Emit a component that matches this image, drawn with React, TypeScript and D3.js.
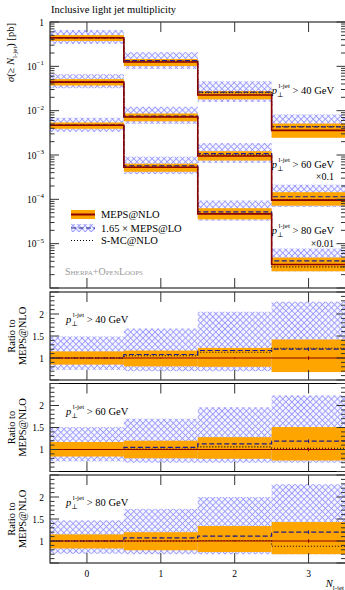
import React from 'react';
import * as d3 from 'd3';

// bins of N_l-jet and their edges
const bins = [0, 1, 2, 3];
const binEdges = [-0.5, 0.5, 1.5, 2.5, 3.5];
const ptCuts = ['40', '60', '80'];
const scaleNotes = ['', '×0.1', '×0.01'];

// MEPS@NLO central values [pb], already multiplied by the quoted factor
const nloPt40 = [0.44, 0.125, 0.0225, 0.0036];
const nloPt60 = [0.044, 0.0072, 0.00095, 0.000096];
const nloPt80 = [0.0047, 0.00053, 0.000047, 0.0000034];

// ratios to MEPS@NLO
const nloLo40 = [0.85, 0.81, 0.8, 0.68];
const nloHi40 = [1.15, 1.17, 1.23, 1.42];
const loLo40 = [0.73, 0.7, 0.7, 0.7];
const loHi40 = [1.49, 1.67, 2.05, 2.28];
const loMid40 = [1.0, 1.08, 1.17, 1.2];
const smc40 = [1.0, 1.05, 1.13, 1.22];

const nloLo60 = [0.84, 0.8, 0.79, 0.75];
const nloHi60 = [1.17, 1.2, 1.28, 1.51];
const loLo60 = [0.73, 0.7, 0.7, 0.7];
const loHi60 = [1.51, 1.7, 1.96, 2.23];
const loMid60 = [1.0, 1.05, 1.13, 1.19];
const smc60 = [1.0, 1.01, 1.06, 1.03];

const nloLo80 = [0.83, 0.79, 0.75, 0.7];
const nloHi80 = [1.15, 1.2, 1.34, 1.43];
const loLo80 = [0.71, 0.7, 0.7, 0.7];
const loHi80 = [1.47, 1.73, 2.0, 2.29];
const loMid80 = [1.0, 1.07, 1.11, 1.2];
const smc80 = [1.0, 1.0, 1.01, 0.88];

// statistical errors (relative)
const statErr = [0.004, 0.008, 0.015, 0.04];

const mainTickLabels = ['1', '10|−1', '10|−2', '10|−3', '10|−4', '10|−5'];
const ratioTickLabels = ['1', '1.5', '2'];

const groups = [
  { nlo: nloPt40, nloLo: nloLo40, nloHi: nloHi40, loLo: loLo40, loHi: loHi40, loMid: loMid40, smc: smc40 },
  { nlo: nloPt60, nloLo: nloLo60, nloHi: nloHi60, loLo: loLo60, loHi: loHi60, loMid: loMid60, smc: smc60 },
  { nlo: nloPt80, nloLo: nloLo80, nloHi: nloHi80, loLo: loLo80, loHi: loHi80, loMid: loMid80, smc: smc80 },
];

const W = 345;
const H = 590;
const L = 50;
const R = 345.5;
const mainTop = 22;
const mainBot = 288;
const ratioTops = [292, 383.5, 475];
const ratioH = 88;

const ORANGE = '#ffa500';
const DARKRED = '#8b0000';
const NAVY = '#1c1c8a';
const FONT = '"Liberation Serif", "DejaVu Serif", serif';

const x = d3.scaleLinear().domain([-0.5, 3.5]).range([L, R]);

function stepPath(vals: number[], y: (v: number) => number) {
  const pts: [number, number][] = binEdges.map((e, i) => [x(e), y(vals[Math.min(i, vals.length - 1)])]);
  return d3.line().curve(d3.curveStepAfter)(pts) || '';
}

function PtLabel({ px, py, cut, anchor = 'start' }: { px: number; py: number; cut: string; anchor?: string }) {
  return (
    <text x={px} y={py} fontSize={10.5} textAnchor={anchor as any} fontFamily={FONT}>
      <tspan fontStyle="italic">p</tspan>
      <tspan dy={3} fontSize={7}>⊥</tspan>
      <tspan dy={-9} dx={-5} fontSize={7}>l-jet</tspan>
      <tspan dy={6}>{` > ${cut} GeV`}</tspan>
    </text>
  );
}

function Bands({ y, lo, hi, fill }: { y: (v: number) => number; lo: number[]; hi: number[]; fill: string }) {
  return (
    <g>
      {bins.map((b, i) => (
        <rect key={b} x={x(binEdges[i])} width={x(binEdges[i + 1]) - x(binEdges[i])}
          y={y(hi[i])} height={y(lo[i]) - y(hi[i])} fill={fill} />
      ))}
    </g>
  );
}

function XTicks({ top, bottom }: { top: number; bottom: number }) {
  return (
    <g stroke="#333" strokeWidth={1}>
      {bins.map(b => (
        <g key={b}>
          <line x1={x(b)} x2={x(b)} y1={top} y2={top + 10} />
          <line x1={x(b)} x2={x(b)} y1={bottom} y2={bottom - 10} />
        </g>
      ))}
    </g>
  );
}

function MainPanel() {
  const y = d3.scaleLog().domain([1e-6, 1]).range([mainBot, mainTop]);
  const majors = d3.range(-6, 1).map(k => Math.pow(10, k));
  const minors: number[] = [];
  d3.range(-6, 0).forEach(k => d3.range(2, 10).forEach(m => minors.push(m * Math.pow(10, k))));
  return (
    <g>
      <clipPath id="mainClip"><rect x={L} y={mainTop} width={R - L} height={mainBot - mainTop} /></clipPath>
      <g clipPath="url(#mainClip)">
        {groups.map((g, gi) => (
          <Bands key={'h' + gi} y={y} fill="url(#hatch)"
            lo={g.nlo.map((v, i) => v * g.loLo[i])} hi={g.nlo.map((v, i) => v * g.loHi[i])} />
        ))}
        {groups.map((g, gi) => (
          <Bands key={'o' + gi} y={y} fill={ORANGE}
            lo={g.nlo.map((v, i) => v * g.nloLo[i])} hi={g.nlo.map((v, i) => v * g.nloHi[i])} />
        ))}
        {groups.map((g, gi) => (
          <g key={'l' + gi} fill="none">
            <path d={stepPath(g.nlo.map((v, i) => v * g.smc[i]), y)} stroke="#000" strokeWidth={1.1} strokeDasharray="1,2" />
            <path d={stepPath(g.nlo.map((v, i) => v * g.loMid[i]), y)} stroke={NAVY} strokeWidth={1.2} strokeDasharray="5,2.5" />
            <path d={stepPath(g.nlo, y)} stroke={DARKRED} strokeWidth={1.6} />
          </g>
        ))}
      </g>
      <rect x={L} y={mainTop} width={R - L} height={mainBot - mainTop} fill="none" stroke="#000" strokeWidth={1} />
      <g stroke="#333" strokeWidth={1}>
        {majors.map(v => (
          <g key={v}>
            <line x1={L} x2={L + 9} y1={y(v)} y2={y(v)} />
            <line x1={R} x2={R - 9} y1={y(v)} y2={y(v)} />
          </g>
        ))}
        {minors.map(v => (
          <g key={v}>
            <line x1={L} x2={L + 4.5} y1={y(v)} y2={y(v)} />
            <line x1={R} x2={R - 4.5} y1={y(v)} y2={y(v)} />
          </g>
        ))}
      </g>
      <XTicks top={mainTop} bottom={mainBot} />
      {mainTickLabels.map((lab, i) => {
        const [base, exp] = lab.split('|');
        return (
          <text key={lab} x={L - 6} y={y(Math.pow(10, -i)) + 3.5} fontSize={9.5} textAnchor="end" fontFamily={FONT}>
            {base}
            {exp && <tspan dy={-4.5} fontSize={7}>{exp}</tspan>}
          </text>
        );
      })}
      <text transform={`translate(14,${mainTop + 1}) rotate(-90)`} fontSize={10.5} textAnchor="end" fontFamily={FONT}>
        <tspan fontStyle="italic">σ</tspan>(≥ <tspan fontStyle="italic">N</tspan>
        <tspan dy={3} fontSize={7}>l-jet</tspan>
        <tspan dy={-3}>) [pb]</tspan>
      </text>
      {/* group annotations */}
      <PtLabel px={334} py={94} cut={ptCuts[0]} anchor="end" />
      <PtLabel px={334} py={168} cut={ptCuts[1]} anchor="end" />
      <text x={334} y={180} fontSize={10} textAnchor="end" fontFamily={FONT}>{scaleNotes[1]}</text>
      <PtLabel px={334} py={234} cut={ptCuts[2]} anchor="end" />
      <text x={334} y={247} fontSize={10} textAnchor="end" fontFamily={FONT}>{scaleNotes[2]}</text>
      {/* legend */}
      <rect x={71} y={210} width={24} height={9} fill={ORANGE} />
      <line x1={71} x2={95} y1={214.5} y2={214.5} stroke={DARKRED} strokeWidth={2} />
      <text x={101} y={218} fontSize={10.5} fontFamily={FONT}>MEPS@NLO</text>
      <rect x={71} y={224} width={24} height={8} fill="url(#hatch)" />
      <line x1={71} x2={95} y1={228} y2={228} stroke={NAVY} strokeWidth={1.2} strokeDasharray="5,2.5" />
      <text x={101} y={231.5} fontSize={10.5} fontFamily={FONT}>1.65 × MEPS@LO</text>
      <line x1={71} x2={95} y1={240.5} y2={240.5} stroke="#000" strokeWidth={1.1} strokeDasharray="1,2" />
      <text x={101} y={244} fontSize={10.5} fontFamily={FONT}>S-MC@NLO</text>
      <text x={65} y={275} fontSize={10} fill="#999" fontFamily={FONT} style={{ fontVariant: 'small-caps' }}>Sherpa+OpenLoops</text>
    </g>
  );
}

function RatioPanel({ gi, top }: { gi: number; top: number }) {
  const g = groups[gi];
  const bottom = top + ratioH;
  const y = d3.scaleLinear().domain([0.5, 2.5]).range([bottom, top]);
  const majors = [0.5, 1, 1.5, 2, 2.5];
  const minors = d3.range(6, 25).map(v => v / 10).filter(v => Math.abs(v * 2 - Math.round(v * 2)) > 1e-6);
  const ones = bins.map(() => 1);
  const id = 'rclip' + gi;
  return (
    <g>
      <clipPath id={id}><rect x={L} y={top} width={R - L} height={ratioH} /></clipPath>
      <g clipPath={`url(#${id})`}>
        <Bands y={y} lo={g.loLo} hi={g.loHi} fill="url(#hatch)" />
        <Bands y={y} lo={g.nloLo} hi={g.nloHi} fill={ORANGE} />
        <g fill="none">
          <path d={stepPath(g.smc, y)} stroke="#000" strokeWidth={1.1} strokeDasharray="1,2" />
          <path d={stepPath(g.loMid, y)} stroke={NAVY} strokeWidth={1.2} strokeDasharray="5,2.5" />
          <path d={stepPath(ones, y)} stroke={DARKRED} strokeWidth={1.2} />
        </g>
        {bins.map((b, i) => (
          <g key={b}>
            <line x1={x(b)} x2={x(b)} y1={y(1 - statErr[i])} y2={y(1 + statErr[i])} stroke={DARKRED} strokeWidth={1} />
            <line x1={x(b)} x2={x(b)} y1={y(g.loMid[i] - statErr[i])} y2={y(g.loMid[i] + statErr[i])} stroke={NAVY} strokeWidth={1} />
          </g>
        ))}
      </g>
      <rect x={L} y={top} width={R - L} height={ratioH} fill="none" stroke="#000" strokeWidth={1} />
      <g stroke="#333" strokeWidth={1}>
        {majors.map(v => (
          <g key={v}>
            <line x1={L} x2={L + 9} y1={y(v)} y2={y(v)} />
            <line x1={R} x2={R - 9} y1={y(v)} y2={y(v)} />
          </g>
        ))}
        {minors.map(v => (
          <g key={v}>
            <line x1={L} x2={L + 4.5} y1={y(v)} y2={y(v)} />
            <line x1={R} x2={R - 4.5} y1={y(v)} y2={y(v)} />
          </g>
        ))}
      </g>
      <XTicks top={top} bottom={bottom} />
      {ratioTickLabels.map(lab => (
        <text key={lab} x={L - 6} y={y(+lab) + 3.5} fontSize={9.5} textAnchor="end" fontFamily={FONT}>{lab}</text>
      ))}
      <PtLabel px={66} py={top + 31} cut={ptCuts[gi]} />
      <text transform={`translate(15,${top + ratioH / 2}) rotate(-90)`} fontSize={10.5} textAnchor="middle" fontFamily={FONT}>
        <tspan x={0} y={0}>Ratio to</tspan>
        <tspan x={0} y={11}>MEPS@NLO</tspan>
      </text>
    </g>
  );
}

export default function App() {
  const lastBottom = ratioTops[2] + ratioH;
  return (
    <svg width={W} height={H} style={{ position: 'absolute', left: 0, top: 0, background: '#fff' }}>
      <defs>
        <pattern id="hatch" width={4.3} height={4.3} patternUnits="userSpaceOnUse" patternTransform="rotate(45)">
          <rect width={4.3} height={4.3} fill="#f4f4ff" />
          <path d="M0,0.4 H4.3 M0.4,0 V4.3" stroke="#8f8fff" strokeWidth={0.8} fill="none" />
        </pattern>
      </defs>
      <rect width={W} height={H} fill="#fff" />
      <text x={51} y={13} fontSize={10.5} fontFamily={FONT}>Inclusive light jet multiplicity</text>
      <MainPanel />
      {ratioTops.map((t, gi) => <RatioPanel key={gi} gi={gi} top={t} />)}
      {bins.map(b => (
        <text key={b} x={x(b)} y={lastBottom + 14} fontSize={9.5} textAnchor="middle" fontFamily={FONT}>{b}</text>
      ))}
      <text x={W - 1} y={lastBottom + 24} fontSize={10.5} textAnchor="end" fontFamily={FONT}>
        <tspan fontStyle="italic">N</tspan>
        <tspan dy={2.5} fontSize={7}>l-jet</tspan>
      </text>
    </svg>
  );
}
